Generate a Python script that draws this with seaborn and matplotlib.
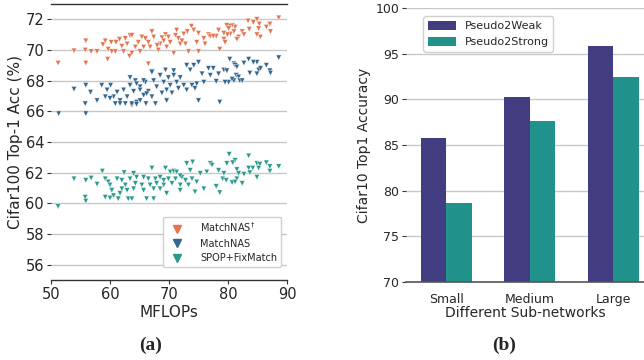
import numpy as np
import pandas as pd
import matplotlib
matplotlib.use("Agg")
import matplotlib.pyplot as plt
import seaborn as sns

# ---------------- data: panel (a) ----------------
matchnas_dag_x = [51.2, 53.9, 55.9, 55.8, 55.9, 56.8, 57.8, 58.8, 59.2, 60.2, 59.7, 59.6, 60.3, 61.0, 61.6,
                  62.0, 62.3, 62.9, 63.3, 63.4, 60.9, 62.6,
                  73.8, 74.2, 73.1, 72.5, 75.0, 75.9, 76.7, 74.7, 73.3, 75.0, 71.1, 71.6, 71.9, 70.8,
                  70.2, 69.4, 68.8, 68.5, 69.6, 67.1, 67.4, 66.5, 66.0, 65.4, 64.8, 64.3, 63.7, 63.7,
                  65.1, 66.5, 68.0, 68.2, 66.8, 65.7, 69.9, 69.1, 71.3, 72.2, 72.8, 76.1, 77.0,
                  88.6, 83.4, 84.9, 84.3, 85.3, 87.1, 86.5, 85.2, 87.2, 83.6, 84.9, 85.5, 82.4, 82.7,
                  81.8, 81.5, 81.2, 80.7, 80.3, 79.8, 81.0, 80.4, 79.9, 79.3, 78.4, 78.0, 77.5, 79.3,
                  79.5, 78.6, 80.1]
matchnas_dag_y = [69.15, 69.95, 70.6, 70.0, 69.15, 69.9, 69.9, 70.35, 70.6, 70.5, 70.05, 69.4, 69.9, 70.5, 70.7,
                  70.25, 69.9, 70.4, 69.6, 70.95, 69.9, 70.75,
                  71.55, 71.3, 71.2, 71.05, 71.1, 70.75, 71.0, 70.5, 69.9, 69.9, 70.95, 70.75, 70.4, 69.8,
                  70.5, 71.0, 70.8, 70.4, 70.2, 71.2, 70.85, 70.5, 70.75, 70.85, 70.5, 70.2, 70.95, 69.8,
                  69.9, 69.1, 70.3, 70.0, 70.2, 70.2, 70.85, 70.6, 71.3, 70.6, 70.4, 70.4, 70.9,
                  72.1, 71.9, 72.0, 71.8, 71.7, 71.7, 71.5, 71.4, 71.2, 71.35, 71.0, 70.85, 71.2, 71.0,
                  70.85, 70.7, 71.5, 71.6, 71.55, 71.6, 71.2, 71.05, 71.0, 71.1, 71.3, 70.9, 70.9, 70.7,
                  70.5, 70.05, 71.4]

matchnas_x = [51.3, 53.9, 55.9, 55.9, 55.8, 56.7, 57.8, 58.6, 59.2, 60.1, 59.5,
              67.1, 69.4, 70.8, 73.0, 74.2, 73.6, 75.0, 75.6, 76.7, 77.0, 75.9, 75.0, 63.4, 64.3,
              65.1, 66.0, 64.0, 65.7, 66.5, 67.1, 67.7, 67.4, 68.5, 69.1, 69.9, 70.2, 69.6, 70.5,
              71.3, 71.9, 72.5, 71.6, 73.0, 73.9, 74.4, 74.7, 68.8, 67.9, 64.5, 65.1, 63.7, 66.1,
              69.6, 70.8,
              60.6, 61.2, 61.7, 60.9, 62.3, 62.9, 63.4, 63.7, 64.5, 61.7, 62.6, 64.5, 65.1, 65.7,
              66.2, 67.1, 60.0,
              88.6, 83.5, 84.9, 84.3, 82.7, 86.5, 87.1, 87.2, 85.2, 85.5, 83.7, 84.9, 80.3, 81.0,
              81.2, 81.5, 79.3, 79.8, 78.4, 81.4, 81.8, 82.0, 82.4, 81.0, 80.1, 79.5, 78.0, 77.5,
              78.6, 80.7]
matchnas_y = [65.85, 67.45, 67.7, 65.85, 66.5, 67.25, 66.7, 67.7, 66.95, 67.7, 67.4,
              68.6, 68.7, 68.65, 69.0, 69.0, 68.7, 69.2, 68.45, 68.8, 68.35, 67.9, 66.7, 68.2, 68.0,
              67.6, 67.9, 67.3, 67.05, 67.3, 66.95, 66.5, 68.0, 68.35, 67.9, 68.2, 67.7, 67.4, 67.2,
              67.9, 68.2, 67.7, 67.5, 67.4, 67.7, 67.5, 67.8, 67.2, 67.6, 66.6, 66.7, 66.4, 66.5,
              66.7, 68.35,
              66.95, 67.25, 66.7, 66.5, 67.4, 66.95, 67.7, 66.5, 67.8, 66.5, 66.5, 66.45, 67.4, 68.0,
              67.15, 68.55, 66.85,
              69.5, 69.4, 69.2, 69.2, 69.15, 69.0, 68.65, 68.5, 68.7, 68.8, 68.5, 68.45, 69.4, 69.1,
              69.0, 68.9, 68.7, 68.65, 68.45, 68.35, 68.25, 68.0, 68.0, 68.0, 67.9, 67.9, 67.95, 68.8,
              66.6, 68.1]

spop_x = [51.2, 53.9, 55.9, 56.8, 55.8, 55.9, 58.7, 57.8, 59.2, 59.7, 60.0, 60.3, 59.2, 60.0, 60.6,
          61.4, 61.7, 61.2, 62.0, 62.4, 62.6, 62.9, 63.1, 63.4, 62.0,
          67.1, 74.0, 73.0, 69.4, 70.2, 70.8, 73.6, 75.3, 77.0, 76.4, 64.5, 65.7, 66.5, 67.7,
          68.5, 69.1, 69.9, 71.1, 72.2, 72.8, 73.9, 74.7, 64.3, 65.4, 66.8, 67.9, 69.1, 70.5,
          71.9, 73.3, 64.0, 65.7, 67.4, 68.5, 69.6, 71.9, 74.4, 75.9, 66.2, 67.4, 63.7, 64.0,
          71.3, 71.9,
          88.6, 80.2, 83.5, 81.2, 80.8, 79.8, 77.3, 84.9, 85.4, 86.5, 87.1, 84.2, 83.5, 85.2,
          87.1, 83.7, 84.9, 78.4, 79.3, 81.5, 81.8, 82.7, 81.5, 79.1, 79.7, 80.7, 81.2, 82.4,
          78.0, 78.6]
spop_y = [59.8, 61.6, 61.5, 61.65, 60.4, 60.15, 62.1, 61.25, 61.6, 61.4, 61.2, 60.85, 60.4, 60.35, 60.5,
          60.3, 60.65, 61.6, 61.5, 62.0, 61.2, 60.85, 60.3, 61.6, 60.95,
          62.3, 62.7, 62.6, 62.3, 62.05, 62.1, 62.15, 61.95, 62.6, 62.05, 61.7, 61.7, 61.6, 61.6,
          61.7, 61.5, 61.6, 61.6, 61.7, 61.5, 61.6, 61.4, 61.3, 61.2, 61.2, 61.3, 61.2, 61.3,
          61.2, 61.2, 60.95, 60.85, 60.95, 60.95, 60.65, 60.85, 60.75, 60.95, 60.3, 60.3, 60.3, 61.95,
          62.05, 61.8,
          62.4, 63.2, 63.1, 62.8, 62.65, 62.6, 62.5, 62.6, 62.55, 62.65, 62.4, 62.3, 62.3, 62.3,
          62.1, 62.0, 61.7, 62.15, 61.95, 62.2, 61.95, 61.9, 61.6, 61.6, 61.5, 61.35, 61.4, 61.3,
          61.1, 60.7]

methods = ["MatchNAS$^{\\dagger}$", "MatchNAS", "SPOP+FixMatch"]
x_ticks_a = [50, 60, 70, 80, 90]
y_ticks_a = [56, 58, 60, 62, 64, 66, 68, 70, 72]

# ---------------- data: panel (b) ----------------
subnets = ["Small", "Medium", "Large"]
pseudo2weak = [85.8, 90.3, 95.8]
pseudo2strong = [78.6, 87.6, 92.4]
y_ticks_b = [70, 75, 80, 85, 90, 95, 100]

# ---------------- build frames ----------------
df_a = pd.concat([
    pd.DataFrame({"MFLOPs": matchnas_dag_x, "Acc": matchnas_dag_y, "Method": methods[0]}),
    pd.DataFrame({"MFLOPs": matchnas_x, "Acc": matchnas_y, "Method": methods[1]}),
    pd.DataFrame({"MFLOPs": spop_x, "Acc": spop_y, "Method": methods[2]}),
], ignore_index=True)

df_b = pd.DataFrame({
    "Sub": subnets * 2,
    "Acc": pseudo2weak + pseudo2strong,
    "Setting": ["Pseudo2Weak"] * 3 + ["Pseudo2Strong"] * 3,
})

sns.set_theme(style="whitegrid")
plt.rcParams["font.family"] = ["DejaVu Sans"]

fig = plt.figure(figsize=(6.44, 3.60), dpi=100)

# ---------------- panel (a) ----------------
ax1 = fig.add_axes([51 / 644, 80 / 360, 236 / 644, 276 / 360])
pal_a = {methods[0]: "#e4754f", methods[1]: "#33668f", methods[2]: "#2a9a8e"}
sns.scatterplot(data=df_a, x="MFLOPs", y="Acc", hue="Method", palette=pal_a,
                marker="v", s=15, linewidth=0.3, ax=ax1, legend=False)
ax1.set_xlim(50, 90)
ax1.set_ylim(55, 73)
ax1.set_xticks(x_ticks_a)
ax1.set_yticks(y_ticks_a)
ax1.grid(axis="x", visible=False)
ax1.grid(axis="y", color="#c8c8c8", linewidth=1.0)
for s in ["left", "right"]:
    ax1.spines[s].set_visible(False)
for s in ["top", "bottom"]:
    ax1.spines[s].set_visible(True)
    ax1.spines[s].set_color("#333333")
    ax1.spines[s].set_linewidth(1.0)
ax1.tick_params(axis="y", left=True, length=3, width=0.8, color="#333333", labelsize=10.5, pad=2)
ax1.tick_params(axis="x", bottom=True, length=3, width=0.8, color="#333333", labelsize=10.5, pad=2)
ax1.set_xlabel("MFLOPs", fontsize=11, labelpad=2)
ax1.set_ylabel("Cifar100 Top-1 Acc (%)", fontsize=11, labelpad=2)

handles = [plt.Line2D([], [], marker="v", linestyle="", markersize=5.5,
                      markerfacecolor=pal_a[m], markeredgecolor=pal_a[m]) for m in methods]
ax1.legend(handles, methods, loc="lower right", fontsize=7, frameon=True,
           framealpha=1, edgecolor="#d0d0d0", handletextpad=1.4, borderpad=0.4,
           labelspacing=0.45, bbox_to_anchor=(0.995, 0.03))

# ---------------- panel (b) ----------------
ax2 = fig.add_axes([406 / 644, 78 / 360, 238 / 644, 274 / 360])
pal_b = {"Pseudo2Weak": "#413d80", "Pseudo2Strong": "#21918c"}
sns.barplot(data=df_b, x="Sub", y="Acc", hue="Setting", palette=pal_b,
            width=0.61, saturation=1, linewidth=0, ax=ax2)
ax2.set_ylim(70, 100)
ax2.set_xlim(-0.48, 2.37)
ax2.set_yticks(y_ticks_b)
ax2.grid(axis="x", visible=False)
ax2.grid(axis="y", color="#c8c8c8", linewidth=1.0)
ax2.set_axisbelow(True)
for s in ["left", "right", "top"]:
    ax2.spines[s].set_visible(False)
ax2.spines["bottom"].set_visible(True)
ax2.spines["bottom"].set_color("#555555")
ax2.spines["bottom"].set_linewidth(1.2)
ax2.tick_params(axis="y", left=True, length=3, width=0.8, color="#333333", labelsize=9, pad=2)
ax2.tick_params(axis="x", bottom=False, labelsize=9, pad=2)
ax2.set_xlabel("Different Sub-networks", fontsize=10, labelpad=0)
ax2.set_ylabel("Cifar10 Top1 Accuracy", fontsize=10, labelpad=3)
leg = ax2.legend(loc="upper left", fontsize=8, frameon=True, framealpha=1,
                 edgecolor="#d0d0d0", bbox_to_anchor=(0.05, 0.99), title=None,
                 handlelength=2.5, handleheight=0.9, labelspacing=0.5)

# ---------------- captions ----------------
fig.text(151 / 644, 1 - 345 / 360, "(a)", ha="center", va="center",
         fontsize=14, fontweight="bold", family=["Liberation Serif", "DejaVu Serif"])
fig.text(504 / 644, 1 - 345 / 360, "(b)", ha="center", va="center",
         fontsize=14, fontweight="bold", family=["Liberation Serif", "DejaVu Serif"])

fig.savefig("out.png", dpi=100)
